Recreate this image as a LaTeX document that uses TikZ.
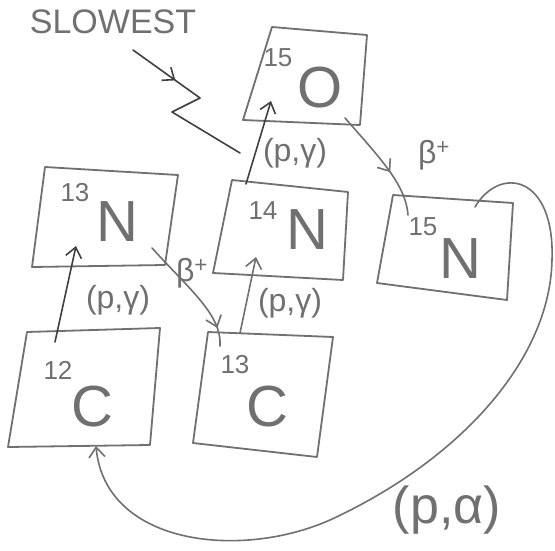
\documentclass[tikz,border=0pt]{standalone}
\usepackage{fontspec}
\setmainfont{Liberation Sans}
\usetikzlibrary{arrows.meta,decorations.markings}
\definecolor{pencil}{HTML}{707070}
\definecolor{lead}{HTML}{404040}
\tikzset{
  outline/.style={draw=pencil, line width=1.8pt, line join=round, line cap=round},
  rxn/.style={draw=pencil, line width=1.6pt, line cap=round, -{Straight Barb[length=10pt,width=16pt]}},
  midtip/.style={postaction={decorate}, decoration={markings,
      mark=at position #1 with {\arrow{Straight Barb[length=10pt,width=16pt]}}}},
  elem/.style={text=pencil, font=\fontsize{58}{58}\selectfont, inner sep=0pt},
  mass/.style={text=pencil, font=\fontsize{26}{26}\selectfont, inner sep=0pt},
  lbl/.style={text=pencil, font=\fontsize{32}{32}\selectfont, inner sep=0pt},
}
\begin{document}
\begin{tikzpicture}[x=1pt, y=-1pt]
\useasboundingbox[fill=white] (0,0) rectangle (555,551);

% nucleus boxes
\draw[outline] (272,27) -- (367,35) -- (360,125) -- (243,120) -- cycle;  % 15O
\draw[outline] (232,180) -- (348,192) -- (343,280) -- (213,273) -- cycle; % 14N
\draw[outline] (45,167) -- (178,175) -- (165,265) -- (32,267) -- cycle;  % 13N
\draw[outline] (393,195) -- (513,203) -- (507,300) -- (377,283) -- cycle; % 15N
\draw[outline] (27,332) -- (160,328) -- (150,445) -- (8,447) -- cycle;   % 12C
\draw[outline] (208,332) -- (333,337) -- (317,457) -- (193,443) -- cycle; % 13C

% element symbols and mass numbers
\node[mass] (mO15) at (278,58) {15};  \node[elem] (O15) at (320,88) {O};
\node[mass] (mN14) at (263,211) {14}; \node[elem] (N14) at (307,230) {N};
\node[mass] (mN13) at (75,193) {13};  \node[elem] (N13) at (117,222) {N};
\node[mass] (mN15) at (423,227) {15}; \node[elem] (N15) at (460,259) {N};
\node[mass] (mC12) at (58,370) {12};  \node[elem] (C12) at (92,407) {C};
\node[mass] (mC13) at (235,365) {13}; \node[elem] (C13) at (267,407) {C};

% end points of the reaction arrows
\coordinate (c12up) at (55,342);   \coordinate (n13low) at (76,246);
\coordinate (n13out) at (152,248); \coordinate (c13in) at (220,346);
\coordinate (c13up) at (240,333);  \coordinate (n14low) at (256,257);
\coordinate (n14up) at (246,184);  \coordinate (o15low) at (271,101);
\coordinate (o15out) at (345,118); \coordinate (n15in) at (408,215);
\coordinate (n15out) at (475,207); \coordinate (c12in) at (96,446);

% reactions
\draw[rxn, draw=lead] (c12up) -- (n13low);
\draw[outline, line width=1.6pt, midtip=0.85] (n13out) .. controls (190,290) and (222,315) .. (c13in);
\draw[rxn] (c13up) -- (n14low);
\draw[rxn, draw=lead] (n14up) -- (o15low);
\draw[outline, line width=1.6pt, midtip=0.6] (o15out) .. controls (380,158) and (406,185) .. (n15in);
\draw[rxn] (n15out) .. controls (500,165) and (555,175) .. (552,260)
  .. controls (550,360) and (460,460) .. (330,520)
  .. controls (240,560) and (105,545) .. (c12in);

% reaction labels
\node[lbl] (l1) at (118,300) {(p,γ)};
\node[lbl] (l2) at (192,273) {β\textsuperscript{+}};
\node[lbl] (l3) at (290,303) {(p,γ)};
\node[lbl] (l4) at (295,153) {(p,γ)};
\node[lbl] (l5) at (434,155) {β\textsuperscript{+}};
\node[text=pencil, font=\fontsize{52}{52}\selectfont, inner sep=0pt] (l6) at (447,510) {(p,α)};

% the slowest step
\node[text=pencil, font=\fontsize{34}{34}\selectfont, inner sep=0pt] (slow) at (113,22) {SLOWEST};
\coordinate (zz0) at (133,50);
\coordinate (zz3) at (240,153);
\draw[draw=lead, line width=1.6pt, line join=round, line cap=round, midtip=0.27]
  (zz0) -- (200,98) -- (172,112) -- (zz3);
\end{tikzpicture}
\end{document}
